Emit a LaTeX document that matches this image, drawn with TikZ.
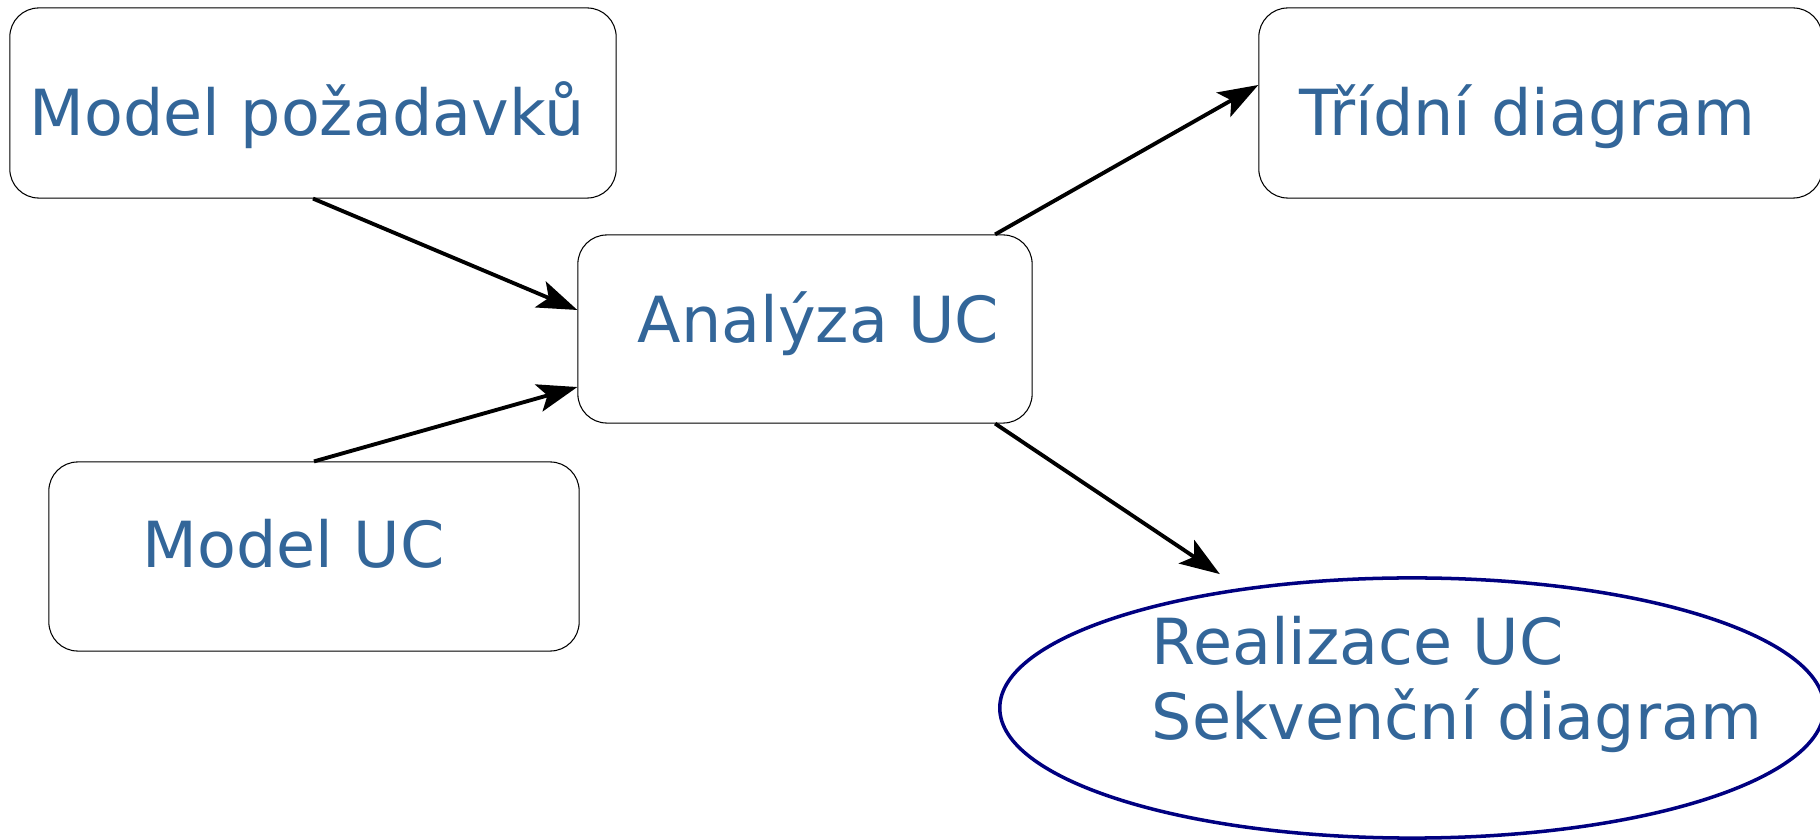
\documentclass[tikz,border=0pt]{standalone}
\usepackage{fontspec}
\setmainfont{DejaVu Sans}
\usepackage{tikz}
\usetikzlibrary{shapes,arrows,arrows.meta,positioning}
\definecolor{textblue}{RGB}{51, 102, 153}
\definecolor{navy}{RGB}{0, 0, 128}
\tikzstyle{umlbox} = [rectangle, draw=black, line width=0.3pt, rounded corners=0.29cm, inner sep=0pt, fill=white]
\tikzstyle{usecase} = [ellipse, draw=navy, line width=1pt, inner sep=0pt]
\tikzstyle{boxtext} = [anchor=base west, inner sep=0pt, text=textblue, font=\fontsize{18.07}{21.3}\selectfont]
\tikzstyle{tedge}  = [draw, line width=1.1pt, -{Stealth[length=0.40cm, width=0.28cm, inset=0.09cm]}]

\begin{document}
\begin{tikzpicture}[x=0.01cm, y=-0.01cm]
\useasboundingbox (0,0) rectangle (1820,840);

% boxes =============================
\node[umlbox, minimum width=6.06cm, minimum height=1.90cm] (req) at (313,103) {};
\node[umlbox, minimum width=4.54cm, minimum height=1.88cm] (ana) at (805,329) {};
\node[umlbox, minimum width=5.30cm, minimum height=1.89cm] (uc) at (314,556.5) {};
\node[umlbox, minimum width=5.63cm, minimum height=1.90cm] (cls) at (1540.5,103) {};
\node[usecase, minimum width=8.24cm, minimum height=2.60cm] (real) at (1412,708) {};

% texts
\node[boxtext] (reqtext) at (29,136) {Model požadavků};
\node[boxtext] (anatext) at (637,343) {Analýza UC};
\node[boxtext] (uctext) at (142,568) {Model UC};
\node[boxtext] (clstext) at (1299,136) {Třídní diagram};
\node[boxtext] (realtext1) at (1151,665) {Realizace UC};
\node[boxtext] (realtext2) at (1151,740) {Sekvenční diagram};

%edges
\path[tedge] (req.south) -- ([yshift=0.19cm]ana.west);
\path[tedge] (uc.north) -- ([yshift=-0.58cm]ana.west);
\path[tedge] ([xshift=1.9cm]ana.north) -- ([yshift=0.18cm]cls.west);
\path[tedge, shorten >=0.25cm] ([xshift=1.9cm]ana.south) -- (real.145);

\end{tikzpicture}
\end{document}
